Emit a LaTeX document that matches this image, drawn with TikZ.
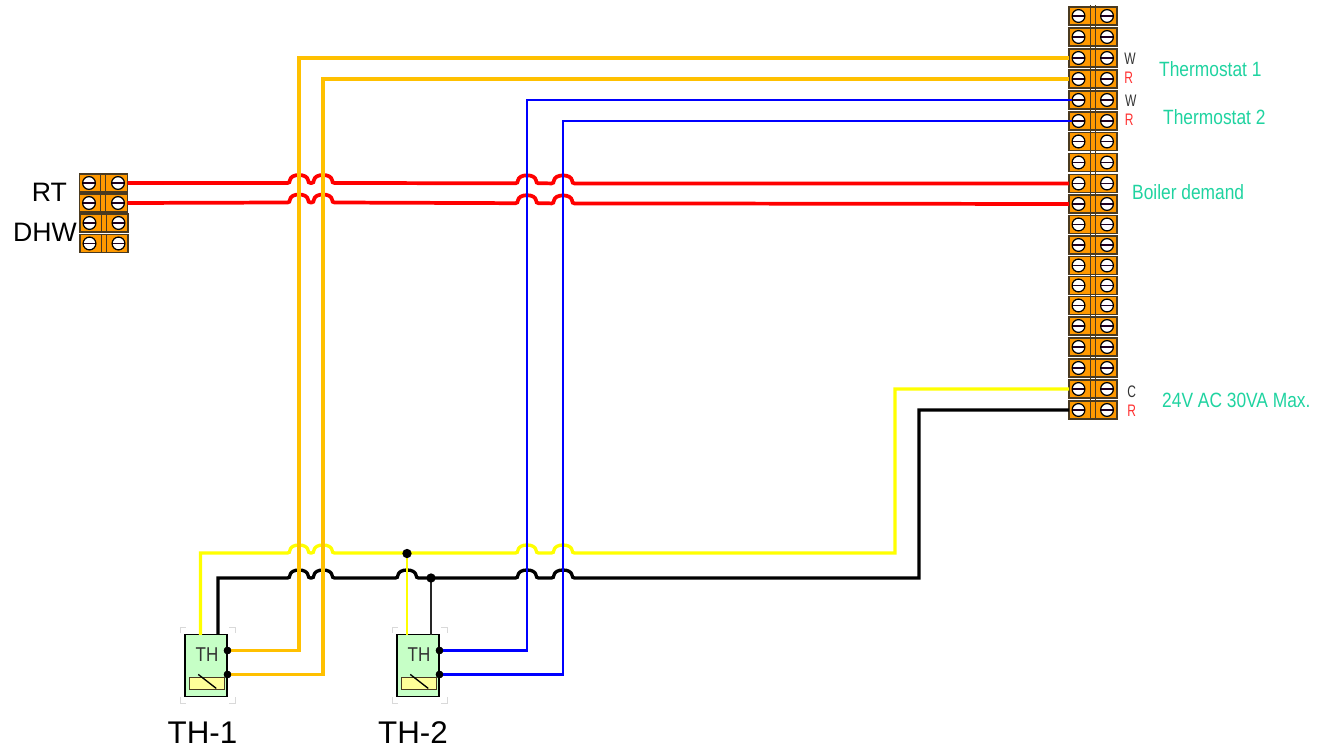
\documentclass[tikz,border=0pt]{standalone}
\usepackage{fontspec}
\setmainfont{Liberation Sans}
\definecolor{wOrange}{HTML}{FFC000}
\definecolor{wBlue}{HTML}{0000FF}
\definecolor{wRed}{HTML}{FF0000}
\definecolor{wYellow}{HTML}{FFFF00}
\definecolor{termFill}{HTML}{FF9900}
\definecolor{termEdge}{HTML}{4A3A20}
\definecolor{labelGreen}{HTML}{1FD3A0}
\definecolor{thFill}{HTML}{C6FFC6}
\definecolor{thInner}{HTML}{FFFF99}
\definecolor{tagRed}{HTML}{FF3030}
\newcommand\hopat[2]{-- (#1-11.5,#2) .. controls (#1-10,#2) and (#1-9,#2-1) .. (#1-9,#2-3) .. controls (#1-8.5,#2-6) and (#1-5,#2-8) .. (#1,#2-8) .. controls (#1+5,#2-8) and (#1+8.5,#2-6) .. (#1+9,#2-3) .. controls (#1+9,#2-1) and (#1+10,#2) .. (#1+11.5,#2)}
\tikzset{
  x=0.75pt,y=-0.75pt,
  termrow/.style={draw=termEdge,fill=termFill,line width=1pt,minimum width=36pt,minimum height=13.5pt,inner sep=0pt,outer sep=0pt},
  screw/.style={circle,draw=black,fill=white,line width=0.9pt,minimum size=9.6pt,inner sep=0pt,
    path picture={\draw[black!75!violet,line width=1.4pt] (path picture bounding box.west) -- (path picture bounding box.east);}},
  divider/.style={draw=termEdge,line width=0.75pt},
  redwire/.style={line width=2.8pt,wRed},
  hwire/.style={line width=2.5pt,line join=miter},
  orangewire/.style={line width=2.3pt,wOrange},
  bluewire/.style={line width=1.7pt,wBlue},
  thinwire/.style={line width=1.6pt},
  greenlabel/.style={text=labelGreen,font=\fontsize{15.5}{16}\selectfont,transform shape,xscale=.84,anchor=west,inner sep=0pt},
  tag/.style={font=\fontsize{12.5}{13}\selectfont,transform shape,xscale=.72,inner sep=0pt},
  biglabel/.style={font=\fontsize{20}{21}\selectfont,inner sep=0pt},
  namelabel/.style={font=\fontsize{23.5}{24}\selectfont,inner sep=0pt},
  thbox/.style={draw=black,fill=thFill,line width=0.8pt,minimum width=31.5pt,minimum height=46pt,inner sep=0pt,outer sep=0pt},
  thinner/.style={draw=termEdge,fill=thInner,line width=0.6pt,minimum width=26pt,minimum height=8.5pt,inner sep=0pt},
  pin/.style={circle,fill=black,inner sep=0pt,minimum size=5.6pt},
  thtext/.style={font=\fontsize{15}{16}\selectfont,text=black!80,inner sep=0pt,transform shape,xscale=.85},
  bracket/.style={draw=black!15,line width=0.7pt},
}
\begin{document}
\begin{tikzpicture}
\useasboundingbox (0,0) rectangle (1317,748);
% anchors for wire routing
\coordinate (yc1) at (200.5,553); \coordinate (yc2) at (895,553);
\coordinate (bc1) at (218,578); \coordinate (bc2) at (919,578);
\coordinate (j1) at (407,553.5); \coordinate (j2) at (431,578);
\coordinate (v1) at (299,400); \coordinate (v2) at (323,400); \coordinate (v3) at (527,400); \coordinate (v4) at (563,400);

% right strip
\foreach \i/\yy in {1/16,2/37,3/58,4/79,5/100,6/121,7/141.5,8/162.5,9/183.5,10/204,11/224.5,12/245,13/265.5,14/285.5,15/305.5,16/326,17/347,18/368,19/389,20/410}{
  \node[termrow] (RR\i) at (1093,\yy) {};
  \draw[divider] (1090,\yy-10.5) -- (1090,\yy+10.5) (1095,\yy-10.5) -- (1095,\yy+10.5);
  \node[screw] (R\i) at (1078.5,\yy) {};
  \node[screw] (Q\i) at (1107,\yy) {};
}
% left block
\foreach \i/\yy/\dx in {1/183/0,2/203/0,3/223/0.5,4/243.5/0.5}{
  \node[termrow] (LL\i) at (103.5+\dx,\yy) {};
  \draw[divider] (100.5+\dx,\yy-9.5) -- (100.5+\dx,\yy+9.5) (105.5+\dx,\yy-9.5) -- (105.5+\dx,\yy+9.5);
  \node[screw] (L\i) at (89+\dx,\yy) {};
  \node[screw] (K\i) at (118+\dx,\yy) {};
}
% thermostats
\foreach \n/\ox in {1/0,2/212}{
  \begin{scope}[shift={(\ox,0)}]
  \draw[bracket] (180,633) -- (180,627) -- (186,627) (229,627) -- (235,627) -- (235,633)
                 (180,697) -- (180,703) -- (186,703) (229,703) -- (235,703) -- (235,697);
  \node[thbox] (TH\n) at (206,665.5) {};
  \node[thtext] (THt\n) at (207,655) {TH};
  \node[thinner] (THi\n) at (207,683.5) {};
  \draw[black,line width=1pt] (THi\n.north west) ++(9,-3) -- ++(18,14);
  \node[pin] (THa\n) at (227.5,650.5) {};
  \node[pin] (THb\n) at (227.5,674.5) {};
  \end{scope}
}

% horizontal wires with hops, then the straight verticals over them
\draw[redwire] (LL1.east) \hopat{299}{183} \hopat{323}{183} \hopat{527}{183.3} \hopat{563}{183.4} -- (RR9.west);
\draw[redwire] (LL2.east) \hopat{299}{202.5} \hopat{323}{202.5} \hopat{527}{203.2} \hopat{563}{203.4} -- (RR10.west);
\draw[hwire,wYellow] (TH1.north -| yc1) -- (yc1) \hopat{299}{553} \hopat{323}{553} -- (j1 |- yc1) \hopat{527}{553} \hopat{563}{553} -- (yc2) -- (yc2 |- RR19.west) -- (RR19.west);
\draw[hwire,black] (TH1.north -| bc1) -- (bc1) \hopat{299}{578} \hopat{323}{578} \hopat{407}{578} -- (j2) \hopat{527}{578} \hopat{563}{578} -- (bc2) -- (bc2 |- RR20.west) -- (RR20.west);
\draw[thinwire,wYellow] (j1) -- (TH2.north -| j1);
\draw[thinwire,black!85] (j2) -- (TH2.north -| j2);
\draw[orangewire] (THa1.center) -- (THa1.center -| v1) -- (v1 |- RR3.west) -- (RR3.west);
\draw[orangewire] (THb1.center) -- (THb1.center -| v2) -- (v2 |- RR4.west) -- (RR4.west);
\draw[bluewire] (THa2.center) -- (THa2.center -| v3) -- (v3 |- R5.center) -- (R5.west);
\draw[bluewire] (THb2.center) -- (THb2.center -| v4) -- (v4 |- R6.center) -- (R6.west);
\node[pin,minimum size=7pt] (dot1) at (j1) {};
\node[pin,minimum size=7pt] (dot2) at (j2) {};
\foreach \n in {1,2}{
  \node[pin] at (THa\n) {};
  \node[pin] at (THb\n) {};
}

% labels
\node[tag,text=black!80] (t1) at (1130,58.5) {W};
\node[tag,text=tagRed] (t2) at (1128.7,77.5) {R};
\node[tag,text=black!80] (t3) at (1130.7,100.5) {W};
\node[tag,text=tagRed] (t4) at (1129.3,119.5) {R};
\node[tag,text=black!80] (t5) at (1131.7,391.5) {C};
\node[tag,text=tagRed] (t6) at (1131.7,410.7) {R};
\node[greenlabel] (g1) at (1159,69) {Thermostat 1};
\node[greenlabel] (g2) at (1163,117) {Thermostat 2};
\node[greenlabel] (g3) at (1132,192) {Boiler demand};
\node[greenlabel] (g4) at (1162,400) {24V AC 30VA Max.};
\node[biglabel] (rt) at (49.5,192) {RT};
\node[biglabel] (dhw) at (45,232) {DHW};
\node[namelabel] (th1) at (202.5,733) {TH-1};
\node[namelabel] (th2) at (413,733) {TH-2};
\end{tikzpicture}
\end{document}
